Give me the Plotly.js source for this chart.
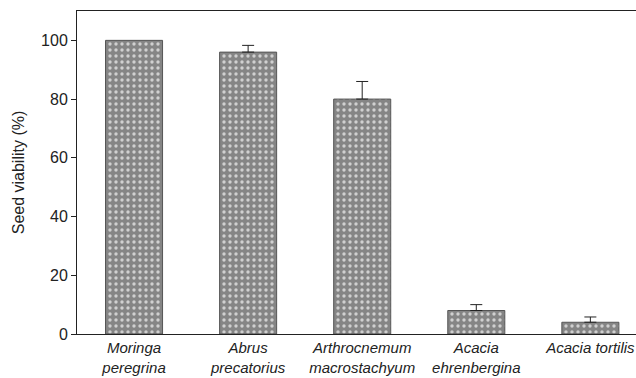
<!DOCTYPE html>
<html><head><meta charset="utf-8">
<script src="https://cdn.plot.ly/plotly-3.0.1.min.js"></script>
<style>html,body{margin:0;padding:0;background:#fff}#c{width:636px;height:378px}</style>
</head><body><div id="c"></div>
<script>
const species = ["<i>Moringa</i><br><i>peregrina</i>", "<i>Abrus</i><br><i>precatorius</i>", "<i>Arthrocnemum</i><br><i>macrostachyum</i>", "<i>Acacia</i><br><i>ehrenbergina</i>", "<i>Acacia tortilis</i>"];
const viability = [100, 96, 80, 8, 4];
const errPlus = [NaN, 2.3, 6, 2, 1.8];
const yTicks = [0, 20, 40, 60, 80, 100];

const xIdx = species.map((_, i) => i);
Plotly.newPlot('c', [{
  type: 'bar', x: xIdx, y: viability, width: 0.5,
  marker: {color: '#858585', line: {color: '#555', width: 1},
    pattern: {shape: '.', fgcolor: '#d0d0d0', bgcolor: '#858585', size: 6, solidity: 0.25}},
  error_y: {type: 'data', array: errPlus, symmetric: false, arrayminus: errPlus.map(v => isNaN(v) ? NaN : 0), color: '#222', thickness: 1, width: 6}
}], {
  width: 636, height: 378,
  margin: {l: 77, r: 0, t: 11, b: 44},
  paper_bgcolor: '#fff', plot_bgcolor: '#fff',
  showlegend: false,
  font: {family: 'Liberation Sans, Arial, sans-serif', color: '#222'},
  xaxis: {range: [-0.5, 4.4], tickvals: xIdx, ticktext: species, ticks: '', showline: true, linecolor: '#222', linewidth: 1, mirror: true, showgrid: false, zeroline: false, tickfont: {size: 15, color: '#222'}, fixedrange: true},
  yaxis: {range: [0, 110], tickvals: yTicks, ticks: 'outside', ticklen: 5, tickcolor: '#222', showline: true, linecolor: '#222', linewidth: 1, showgrid: false, zeroline: false, tickfont: {size: 16, color: '#222'},
    title: {text: 'Seed viability (%)', font: {size: 16, color: '#222'}, standoff: 12}}
}, {displayModeBar: false, staticPlot: true});
</script></body></html>
